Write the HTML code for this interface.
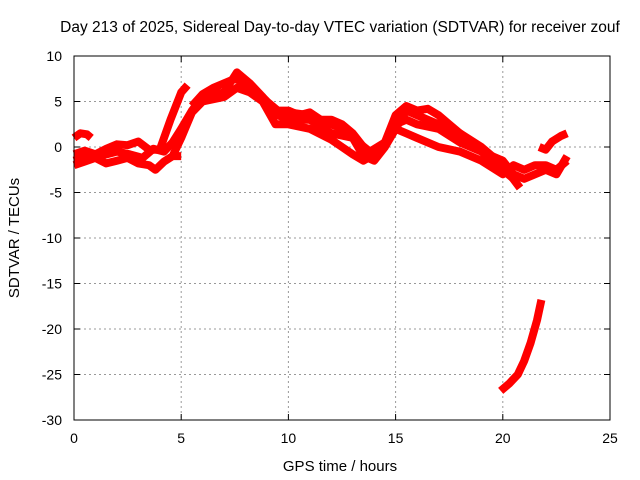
<!DOCTYPE html>
<html><head><meta charset="utf-8"><style>
body{margin:0;background:#fff}
svg{display:block;font-family:"Liberation Sans",sans-serif}
</style></head><body>
<svg id="chart" width="640" height="480" viewBox="0 0 640 480">
<text x="340" y="32" font-size="15.5" text-anchor="middle">Day 213 of 2025, Sidereal Day-to-day VTEC variation (SDTVAR) for receiver zouf</text>
<g id="grid"></g>
<g id="series"></g>
<rect x="74" y="56" width="536" height="364" fill="none" stroke="#000" stroke-width="1"/>
<g id="ticks"></g>
<text x="340" y="471" font-size="15" text-anchor="middle">GPS time / hours</text>
<text transform="translate(19,238) rotate(-90)" font-size="15" text-anchor="middle">SDTVAR / TECUs</text>
</svg>
<script>
const xTicks=[0,5,10,15,20,25];
const yTicks=[10,5,0,-5,-10,-15,-20,-25,-30];
const s1H=[0,0.3,0.6,0.8];
const s1V=[1,1.5,1.4,1.0];
const s2H=[0,0.5,1,1.5,2,2.5,3,3.5,4,4.5,5,5.3];
const s2V=[-0.8,-0.4,-0.8,-0.2,0.3,0.2,0.6,-0.3,-0.3,3,6,6.8];
const s3H=[0,0.5,1,1.5,2,2.5,3,3.5,3.8,4.2,4.6,5];
const s3V=[-2,-1.6,-1.2,-1.8,-1.5,-1.2,-1.8,-2,-2.5,-1.6,-1,-1];
const s4H=[0,0.6,1.2,2,2.6,3.2,3.7,4.2,4.6,5,5.5,6,7,7.6,8.2,8.8,9.3,10,11,12,12.5,13,13.5,14,14.5,15,15.5,16,17,18,19,20,20.8];
const s4V=[-1.5,-1,-1,-0.5,-0.8,-1.2,-0.2,-0.5,0.5,2,4,5.5,6,8.2,7,5.5,3.5,3.8,3.5,2.5,2,1,-1,-1.5,0,2,4,3.5,2.5,1.5,0,-2,-4.5];
const s5H=[4.6,5,5.5,6,7,7.6,8.2,8.8,9.4,10,11,12,12.5,13,13.5,14,14.5,15,15.5,16,17,18,19,20,20.5,21,21.5,22,22.5,23];
const s5V=[-1,1,3.8,5,5.5,6.5,6,5,2.5,2.5,2,0.8,0,-0.8,-1.5,-0.8,0.5,2.5,3,2.5,2,0.5,-0.5,-1.5,-3,-3.5,-3,-2.5,-3,-1];
const s6H=[9,10,11,12,13,13.8,14.5,15,15.5,16,17,18,19,20,20.5,21,21.5,22,22.5,23];
const s6V=[4,3,3,1.5,1,-0.5,0.5,2,1.5,1,0,-0.5,-1.5,-3,-2,-2.5,-2,-2,-2.5,-1.5];
const s7H=[21.7,22,22.3,22.7,23];
const s7V=[0,-0.3,0.6,1.2,1.5];
const s8H=[19.9,20.3,20.7,21,21.3,21.6,21.8];
const s8V=[-26.8,-26,-25,-23.5,-21.5,-19,-16.8];
const s9H=[5.5,6,6.5,7,7.5,8,8.5,9,9.5,10,10.5,11,11.5,12,12.5,13,13.5,14,14.5,15,15.5,16,16.5,17,17.5,18,18.5,19,19.5,20,20.5];
const s9V=[4.5,5.8,6.5,7,7.5,7,6.2,5,4,4,3.5,3.8,3,3,2.5,1.5,0,-1,0.5,3.5,4.5,4,4.2,3.5,2.5,1.5,0.5,-0.5,-1.5,-2.5,-3.5];
const allH=[s1H,s2H,s3H,s4H,s5H,s6H,s7H,s8H,s9H];
const allV=[s1V,s2V,s3V,s4V,s5V,s6V,s7V,s8V,s9V];
const X=h=>74+h*536/25, Y=v=>56+(10-v)*364/40;
const NS="http://www.w3.org/2000/svg";
const grid=document.getElementById('grid'),ticks=document.getElementById('ticks'),ser=document.getElementById('series');
function mk(tag,attrs,parent){const e=document.createElementNS(NS,tag);for(const k in attrs)e.setAttribute(k,attrs[k]);parent.appendChild(e);return e;}
xTicks.forEach(t=>{
  if(t>0&&t<25){const g=mk('line',{x1:X(t),x2:X(t),y1:56,y2:420,stroke:'#999','stroke-dasharray':'2,3'},grid);
  
  }
  const l=mk('text',{x:X(t),y:443,'font-size':14,'text-anchor':'middle'},ticks);l.textContent=t;
  
  
  mk('line',{x1:X(t),x2:X(t),y1:420,y2:414,stroke:'#000'},ticks);
  mk('line',{x1:X(t),x2:X(t),y1:56,y2:62,stroke:'#000'},ticks);
});
yTicks.forEach(t=>{
  if(t<10&&t>-30){const g=mk('line',{x1:74,x2:610,y1:Y(t),y2:Y(t),stroke:'#999','stroke-dasharray':'2,3'},grid);
  
  }
  const l=mk('text',{x:62,y:Y(t)+5,'font-size':14,'text-anchor':'end'},ticks);l.textContent=t;
  
  
  mk('line',{x1:74,x2:80,y1:Y(t),y2:Y(t),stroke:'#000'},ticks);
  mk('line',{x1:610,x2:604,y1:Y(t),y2:Y(t),stroke:'#000'},ticks);
});
allH.forEach((hs,i)=>{
  const pts=hs.map((h,j)=>X(h).toFixed(1)+','+Y(allV[i][j]).toFixed(1)).join(' ');
  const p=mk('polyline',{points:pts,fill:'none',stroke:'#ff0000','stroke-width':8,'stroke-linejoin':'round','stroke-linecap':'butt'},ser);
  
  
});
</script>
</body></html>
